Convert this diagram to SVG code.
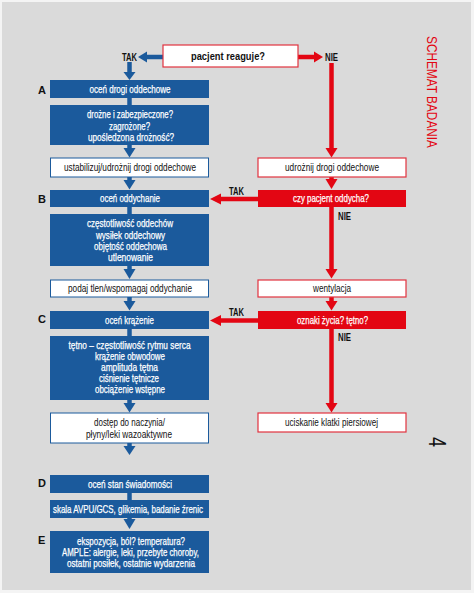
<svg xmlns="http://www.w3.org/2000/svg" width="474" height="593" viewBox="0 0 474 593">
<style>
text{font-family:"Liberation Sans","DejaVu Sans",Arial,sans-serif;font-size:11px;}
.bf{fill:#1b5a9c;}
.rf{fill:#e30613;}
.wb{fill:#ffffff;stroke:#1b5a9c;stroke-width:1;}
.wr{fill:#ffffff;stroke:#e2323f;stroke-width:1.2;}
.tw{fill:#ffffff;text-anchor:middle;stroke:#ffffff;stroke-width:0.25;}
.tk{fill:#111111;text-anchor:middle;}
.lab{fill:#111111;font-weight:bold;}
.bs{stroke:#1b5a9c;stroke-width:4.5;fill:none;}
.rs{stroke:#e30613;stroke-width:4.5;fill:none;}
.bh{fill:#1b5a9c;}
.rh{fill:#e30613;}
</style>
<rect x="0" y="0" width="474" height="593" fill="#f4f4f4"/>
<rect x="2" y="2" width="469" height="588" fill="#dadada"/>

<g id="title">
<text transform="translate(427,36) rotate(90)" x="0" y="0" fill="#e30613" style="font-size:14px" textLength="112" lengthAdjust="spacingAndGlyphs">SCHEMAT BADANIA</text>
</g>
<g id="page-number">
<text transform="translate(429,442) rotate(90)" x="0" y="0" fill="#111" style="font-size:23px;text-anchor:middle" textLength="10" lengthAdjust="spacingAndGlyphs">4</text>
</g>

<g id="connectors">
<!-- top TAK -->
<path class="bs" d="M163,57 H146"/>
<polygon class="bh" points="147,51.5 147,62.5 138,57"/>
<text class="lab" x="122" y="61" textLength="15" lengthAdjust="spacingAndGlyphs">TAK</text>
<path class="bs" d="M129.5,62 V73"/>
<polygon class="bh" points="123.5,72 135.5,72 129.5,80"/>
<!-- top NIE -->
<path class="rs" d="M298,57 H315"/>
<polygon class="rh" points="314,51.5 314,62.5 323,57"/>
<text class="lab" x="325" y="61" textLength="13" lengthAdjust="spacingAndGlyphs">NIE</text>
<path class="rs" d="M331.5,63 V149"/>
<polygon class="rh" points="325.5,148 337.5,148 331.5,157.5"/>

<!-- blue column -->
<path class="bs" d="M129.5,98 V105"/>
<path class="bs" d="M129.5,145 V149"/>
<polygon class="bh" points="123.5,148 135.5,148 129.5,157.5"/>
<path class="bs" d="M129.5,177 V181"/>
<polygon class="bh" points="123.5,180 135.5,180 129.5,189.5"/>
<path class="bs" d="M129.5,207 V214"/>
<path class="bs" d="M129.5,266 V270"/>
<polygon class="bh" points="123.5,269 135.5,269 129.5,279"/>
<path class="bs" d="M129.5,297 V302"/>
<polygon class="bh" points="123.5,301 135.5,301 129.5,310.5"/>
<path class="bs" d="M129.5,329 V336"/>
<path class="bs" d="M129.5,400 V404"/>
<polygon class="bh" points="123.5,403 135.5,403 129.5,412.5"/>
<path class="bs" d="M129.5,443 V447"/>
<polygon class="bh" points="123.5,446 135.5,446 129.5,455"/>
<path class="bs" d="M129.5,493 V500"/>
<path class="bs" d="M129.5,518 V520"/>
<polygon class="bh" points="123.5,519 135.5,519 129.5,529"/>

<!-- red column -->
<path class="rs" d="M331.5,177 V180"/>
<polygon class="rh" points="325.5,179 337.5,179 331.5,189"/>
<path class="rs" d="M258,199 H220"/>
<polygon class="rh" points="221,193.5 221,204.5 210,199"/>
<text class="lab" x="229" y="195" textLength="15" lengthAdjust="spacingAndGlyphs">TAK</text>
<path class="rs" d="M331.5,207 V270"/>
<polygon class="rh" points="325.5,269 337.5,269 331.5,278.5"/>
<text class="lab" x="338" y="220" textLength="13" lengthAdjust="spacingAndGlyphs">NIE</text>
<path class="rs" d="M331.5,297 V302"/>
<polygon class="rh" points="325.5,301 337.5,301 331.5,310.5"/>
<path class="rs" d="M258,320.5 H220"/>
<polygon class="rh" points="221,315 221,326 210,320.5"/>
<text class="lab" x="229" y="316" textLength="15" lengthAdjust="spacingAndGlyphs">TAK</text>
<path class="rs" d="M331.5,329 V404"/>
<polygon class="rh" points="325.5,403 337.5,403 331.5,412.5"/>
<text class="lab" x="338" y="341" textLength="13" lengthAdjust="spacingAndGlyphs">NIE</text>
</g>

<g id="pacjent-reaguje">
<rect class="wr" x="163" y="45" width="135" height="22"/>
<text class="tk" x="228" y="60" style="font-weight:bold" textLength="74" lengthAdjust="spacingAndGlyphs">pacjent reaguje?</text>
</g>

<g id="label-A"><text class="lab" x="38" y="94">A</text></g>
<g id="label-B"><text class="lab" x="38" y="203">B</text></g>
<g id="label-C"><text class="lab" x="38" y="323">C</text></g>
<g id="label-D"><text class="lab" x="38" y="487">D</text></g>
<g id="label-E"><text class="lab" x="38" y="544">E</text></g>

<g id="ocen-drogi">
<rect class="bf" x="50" y="80" width="159" height="18"/>
<text class="tw" x="130" y="93" textLength="81" lengthAdjust="spacingAndGlyphs">oceń drogi oddechowe</text>
</g>
<g id="drozne">
<rect class="bf" x="50" y="105" width="159" height="40"/>
<text class="tw" x="130" y="118" textLength="86" lengthAdjust="spacingAndGlyphs">drożne i zabezpieczone?</text>
<text class="tw" x="129.5" y="129.5" textLength="41" lengthAdjust="spacingAndGlyphs">zagrożone?</text>
<text class="tw" x="131" y="141" textLength="86" lengthAdjust="spacingAndGlyphs">upośledzona drożność?</text>
</g>
<g id="ustabilizuj">
<rect class="wb" x="50.5" y="158" width="158" height="19"/>
<text class="tk" x="130" y="171" textLength="132" lengthAdjust="spacingAndGlyphs">ustabilizuj/udrożnij drogi oddechowe</text>
</g>
<g id="ocen-oddychanie">
<rect class="bf" x="50" y="190" width="159" height="17"/>
<text class="tw" x="130" y="202" textLength="60" lengthAdjust="spacingAndGlyphs">oceń oddychanie</text>
</g>
<g id="oddychanie-parametry">
<rect class="bf" x="50" y="214" width="159" height="52"/>
<text class="tw" x="130" y="227" textLength="86" lengthAdjust="spacingAndGlyphs">częstotliwość oddechów</text>
<text class="tw" x="130.5" y="238.5" textLength="69" lengthAdjust="spacingAndGlyphs">wysiłek oddechowy</text>
<text class="tw" x="130.5" y="250" textLength="73" lengthAdjust="spacingAndGlyphs">objętość oddechowa</text>
<text class="tw" x="130.5" y="261" textLength="45" lengthAdjust="spacingAndGlyphs">utlenowanie</text>
</g>
<g id="podaj-tlen">
<rect class="wb" x="50.5" y="280" width="158" height="17"/>
<text class="tk" x="130" y="292" textLength="124" lengthAdjust="spacingAndGlyphs">podaj tlen/wspomagaj oddychanie</text>
</g>
<g id="ocen-krazenie">
<rect class="bf" x="50" y="311" width="159" height="18"/>
<text class="tw" x="129.5" y="323.5" textLength="49" lengthAdjust="spacingAndGlyphs">oceń krążenie</text>
</g>
<g id="krazenie-parametry">
<rect class="bf" x="50" y="336" width="159" height="64"/>
<text class="tw" x="129.5" y="348.5" textLength="122" lengthAdjust="spacingAndGlyphs">tętno – częstotliwość rytmu serca</text>
<text class="tw" x="130" y="359.5" textLength="70" lengthAdjust="spacingAndGlyphs">krążenie obwodowe</text>
<text class="tw" x="129.5" y="371" textLength="57" lengthAdjust="spacingAndGlyphs">amplituda tętna</text>
<text class="tw" x="129" y="382" textLength="60" lengthAdjust="spacingAndGlyphs">ciśnienie tętnicze</text>
<text class="tw" x="130" y="393" textLength="70" lengthAdjust="spacingAndGlyphs">obciążenie wstępne</text>
</g>
<g id="dostep">
<rect class="wb" x="50.5" y="413" width="158" height="30"/>
<text class="tk" x="129.5" y="426" textLength="71" lengthAdjust="spacingAndGlyphs">dostęp do naczynia/</text>
<text class="tk" x="129" y="437.5" textLength="86" lengthAdjust="spacingAndGlyphs">płyny/leki wazoaktywne</text>
</g>
<g id="ocen-stan">
<rect class="bf" x="50" y="475" width="159" height="18"/>
<text class="tw" x="130" y="487.5" textLength="84" lengthAdjust="spacingAndGlyphs">oceń stan świadomości</text>
</g>
<g id="skala">
<rect class="bf" x="50" y="500" width="159" height="18"/>
<text class="tw" x="128" y="512.5" textLength="150" lengthAdjust="spacingAndGlyphs">skala AVPU/GCS, glikemia, badanie źrenic</text>
</g>
<g id="ekspozycja">
<rect class="bf" x="50" y="531" width="159" height="42"/>
<text class="tw" x="131" y="544.5" textLength="108" lengthAdjust="spacingAndGlyphs">ekspozycja, ból? temperatura?</text>
<text class="tw" x="130.5" y="555.5" textLength="137" lengthAdjust="spacingAndGlyphs">AMPLE: alergie, leki, przebyte choroby,</text>
<text class="tw" x="131" y="566.5" textLength="128" lengthAdjust="spacingAndGlyphs">ostatni posiłek, ostatnie wydarzenia</text>
</g>

<g id="udroznij">
<rect class="wr" x="258" y="158" width="148" height="19"/>
<text class="tk" x="332" y="171" textLength="94" lengthAdjust="spacingAndGlyphs">udrożnij drogi oddechowe</text>
</g>
<g id="czy-oddycha">
<rect class="rf" x="258" y="190" width="148" height="17"/>
<text class="tw" x="331" y="202" textLength="76" lengthAdjust="spacingAndGlyphs">czy pacjent oddycha?</text>
</g>
<g id="wentylacja">
<rect class="wr" x="258" y="280" width="148" height="17"/>
<text class="tk" x="332" y="292" textLength="38" lengthAdjust="spacingAndGlyphs">wentylacja</text>
</g>
<g id="oznaki-zycia">
<rect class="rf" x="258" y="311" width="148" height="18"/>
<text class="tw" x="332.5" y="323.5" textLength="71" lengthAdjust="spacingAndGlyphs">oznaki życia? tętno?</text>
</g>
<g id="uciskanie">
<rect class="wr" x="258" y="413" width="148" height="19"/>
<text class="tk" x="331.5" y="426" textLength="93" lengthAdjust="spacingAndGlyphs">uciskanie klatki piersiowej</text>
</g>
</svg>
